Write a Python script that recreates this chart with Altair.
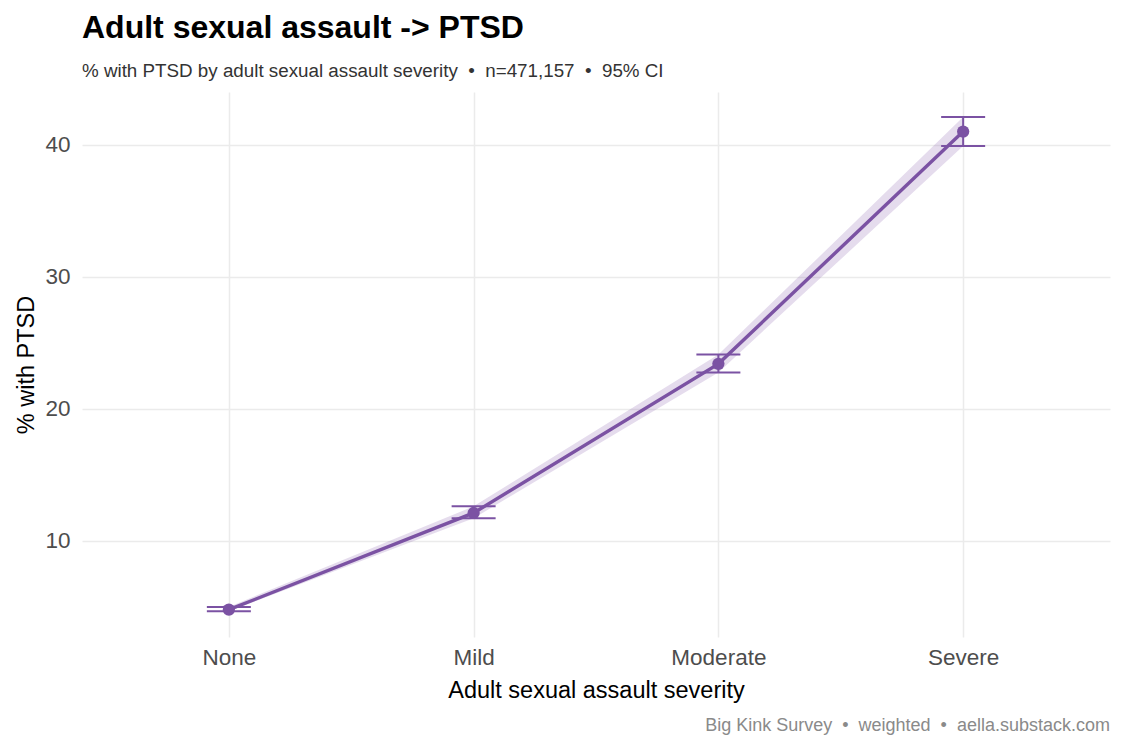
import altair as alt
import pandas as pd

categories = ["None", "Mild", "Moderate", "Severe"]
pct = [4.77, 12.1, 23.4, 41.0]
ci_low = [4.65, 11.7, 22.75, 39.9]
ci_high = [4.98, 12.6, 24.1, 42.1]

df = pd.DataFrame({"cat": categories, "pct": pct, "lo": ci_low, "hi": ci_high})

PURPLE = "#7B52A3"
FONT = "Liberation Sans"
SEP = "\u00a0\u00a0•\u00a0\u00a0"

yscale = alt.Scale(domain=[2.7, 44.0], nice=False, zero=False)
x = alt.X("cat:N", sort=categories,
          scale=alt.Scale(type="point", padding=0.6),
          axis=alt.Axis(title="Adult sexual assault severity", labelAngle=0))
y = alt.Y("pct:Q", scale=yscale,
          axis=alt.Axis(title="% with PTSD", values=[10, 20, 30, 40]))

base = alt.Chart(df)

ribbon = base.mark_area(color=PURPLE, opacity=0.2).encode(
    x=x, y=alt.Y("lo:Q", scale=yscale), y2="hi:Q")
line = base.mark_line(color=PURPLE, strokeWidth=3.4).encode(x=x, y=y)
err = base.mark_rule(color=PURPLE, strokeWidth=2).encode(x=x, y="lo:Q", y2="hi:Q")
cap_lo = base.mark_tick(color=PURPLE, size=44, thickness=2, opacity=1).encode(x=x, y="lo:Q")
cap_hi = base.mark_tick(color=PURPLE, size=44, thickness=2, opacity=1).encode(x=x, y="hi:Q")
pts = base.mark_circle(color=PURPLE, size=150, opacity=1).encode(x=x, y=y)

caption = alt.Chart(pd.DataFrame({"t": ["Big Kink Survey" + SEP + "weighted" + SEP + "aella.substack.com"]})).mark_text(
    align="right", baseline="alphabetic", font=FONT, fontSize=18, color="#8a8a8a"
).encode(text="t:N", x=alt.value(1028), y=alt.value(639))

chart = alt.layer(ribbon, line, err, cap_lo, cap_hi, pts, caption).properties(
    width=1028, height=545,
    autosize=alt.AutoSizeParams(type="none"),
    padding={"left": 82, "top": 92, "right": 15, "bottom": 113},
    title=alt.TitleParams(
        text="Adult sexual assault -> PTSD",
        subtitle="% with PTSD by adult sexual assault severity" + SEP + "n=471,157" + SEP + "95% CI",
        anchor="start", frame="group", font=FONT, fontSize=32, fontWeight="bold",
        color="#000000", subtitleFont=FONT, subtitleFontSize=18.8, subtitleColor="#333333",
        subtitlePadding=17, offset=10,
    ),
).configure_view(stroke=None).configure_axis(
    grid=True, gridColor="#ebebeb", gridWidth=1.5, domain=False, ticks=False,
    labelFont=FONT, labelFontSize=22.5, labelColor="#4d4d4d",
    titleFont=FONT, titleFontSize=23.5, titleColor="#000000", titleFontWeight="normal",
).configure_axisX(labelPadding=9, titlePadding=10).configure_axisY(labelPadding=12, titlePadding=6)

chart.save("out.html", embed_options={"renderer": "svg", "actions": False})
